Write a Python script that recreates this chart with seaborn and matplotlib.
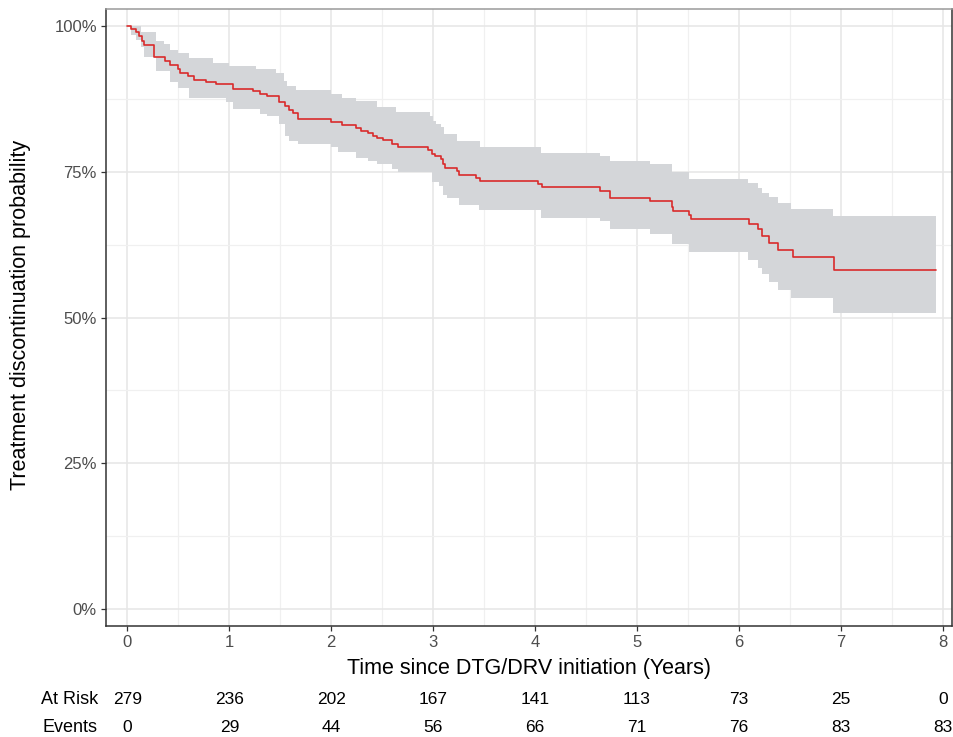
import numpy as np
import matplotlib
matplotlib.use('Agg')
import matplotlib.pyplot as plt
import matplotlib.transforms as mtransforms
from matplotlib.ticker import PercentFormatter, MultipleLocator
import seaborn as sns

# Kaplan-Meier estimate
time = [0.00, 0.04, 0.08, 0.11, 0.14, 0.16, 0.26, 0.37, 0.42, 0.50, 0.52, 0.59,
        0.65, 0.77, 0.87, 1.04, 1.23, 1.30, 1.37, 1.49, 1.55, 1.59, 1.62, 1.67,
        2.00, 2.11, 2.24, 2.29, 2.36, 2.41, 2.45, 2.51, 2.60, 2.65, 2.95, 2.99,
        3.02, 3.08, 3.10, 3.12, 3.23, 3.25, 3.42, 3.46, 4.03, 4.07, 4.64, 4.73,
        5.13, 5.34, 5.35, 5.51, 5.53, 6.10, 6.19, 6.23, 6.29, 6.38, 6.53, 6.93, 7.93]
surv = [100.0, 99.4, 98.9, 98.3, 97.4, 96.7, 94.7, 94.0, 93.3, 92.6, 92.0, 91.4,
        90.7, 90.4, 90.0, 89.2, 88.9, 88.4, 88.0, 86.9, 86.3, 85.6, 85.0, 84.1,
        83.6, 83.0, 82.5, 82.0, 81.6, 81.1, 80.8, 80.4, 79.8, 79.3, 78.7, 78.1,
        77.7, 77.1, 76.4, 75.7, 75.1, 74.4, 73.9, 73.4, 72.9, 72.4, 71.7, 70.5,
        69.9, 69.0, 68.3, 67.6, 66.9, 66.0, 65.1, 64.0, 62.8, 61.6, 60.4, 58.2, 58.2]

# confidence band
upper_time = [0.00, 0.13, 0.28, 0.36, 0.42, 0.50, 0.60, 0.84, 1.00, 1.26, 1.46, 1.54,
              1.57, 1.65, 2.00, 2.11, 2.24, 2.45, 2.64, 2.97, 3.00, 3.03, 3.08, 3.11,
              3.23, 3.46, 4.06, 4.64, 4.73, 5.13, 5.34, 5.51, 6.09, 6.19, 6.23, 6.29,
              6.38, 6.51, 6.92, 7.93]
upper = [100.0, 98.9, 97.4, 96.9, 95.8, 95.3, 94.5, 93.7, 93.2, 92.6, 92.0, 90.6,
         89.7, 89.0, 88.3, 87.6, 87.2, 86.1, 85.2, 84.6, 83.7, 83.2, 82.6, 81.4,
         80.2, 79.3, 78.2, 77.7, 76.8, 76.3, 75.0, 73.8, 73.0, 72.2, 71.3, 70.6,
         69.7, 68.6, 67.4, 67.4]
lower_time = [0.00, 0.04, 0.08, 0.13, 0.16, 0.28, 0.42, 0.50, 0.60, 0.97, 1.04, 1.30,
              1.37, 1.49, 1.55, 1.59, 1.67, 2.00, 2.07, 2.24, 2.36, 2.45, 2.60, 2.65,
              2.99, 3.06, 3.10, 3.14, 3.25, 3.45, 4.06, 4.64, 4.73, 5.13, 5.34, 5.51,
              6.09, 6.19, 6.23, 6.29, 6.38, 6.51, 6.92, 7.93]
lower = [100.0, 98.5, 97.5, 96.3, 94.7, 92.3, 90.3, 89.4, 87.7, 86.9, 85.7, 84.9,
         84.6, 83.2, 81.2, 80.3, 79.8, 79.3, 78.3, 77.4, 76.8, 76.3, 75.5, 74.9,
         73.3, 72.6, 71.0, 70.5, 69.3, 68.5, 67.0, 66.5, 65.1, 64.3, 62.6, 61.2,
         59.8, 58.5, 57.4, 56.1, 54.8, 53.3, 50.7, 50.7]

# risk table
table_times = [0, 1, 2, 3, 4, 5, 6, 7, 8]
at_risk = [279, 236, 202, 167, 141, 113, 73, 25, 0]
events = [0, 29, 44, 56, 66, 71, 76, 83, 83]


def step_path(t, v):
    t = np.asarray(t)
    v = np.asarray(v) / 100
    return np.repeat(t, 2)[1:], np.repeat(v, 2)[:-1]


sns.set_theme(style='whitegrid')
plt.rcParams['font.family'] = ['Liberation Sans', 'DejaVu Sans']

fig = plt.figure(figsize=(9.54, 7.37), dpi=100)
ax = fig.add_axes([106 / 954, 1 - 626 / 737, 846 / 954, 617 / 737])
ax.set_facecolor('white')

# band
ux, uy = step_path(upper_time, upper)
lx, ly = step_path(lower_time, lower)
ax.fill(np.concatenate([ux, lx[::-1]]), np.concatenate([uy, ly[::-1]]),
        color='#d4d6d9', lw=0, zorder=2)

# curve
sns.lineplot(x=time, y=np.asarray(surv) / 100, drawstyle='steps-post',
             color='#d92b2b', lw=1.2, errorbar=None, ax=ax, zorder=3)

ax.set_xlim(-0.21, 8.09)
ax.set_ylim(-0.029, 1.029)
ax.xaxis.set_major_locator(MultipleLocator(1))
ax.xaxis.set_minor_locator(MultipleLocator(0.5))
ax.yaxis.set_major_locator(MultipleLocator(0.25))
ax.yaxis.set_minor_locator(MultipleLocator(0.125))
ax.yaxis.set_major_formatter(PercentFormatter(1.0, decimals=0))

ax.grid(True, which='major', color='#e6e6e6', lw=1.1, zorder=0)
ax.grid(True, which='minor', color='#f0f0f0', lw=0.9, zorder=0)
ax.set_axisbelow(True)

for side in ['left', 'bottom', 'right']:
    ax.spines[side].set_color('#333333')
    ax.spines[side].set_linewidth(1.1)
ax.spines['top'].set_color('#9a9a9a')
ax.spines['top'].set_linewidth(1.1)

ax.tick_params(axis='both', which='major', length=3.5, width=0.9, color='#333333',
               labelsize=12, labelcolor='#4d4d4d', pad=3, bottom=True, left=True)
ax.tick_params(axis='both', which='minor', length=0)

ax.set_xlabel('Time since DTG/DRV initiation (Years)', fontsize=15.5, color='black', labelpad=6)
ax.set_ylabel('')
fig.text(21 / 954, 1 - 315 / 737, 'Treatment discontinuation probability', rotation=90,
         ha='center', va='center', fontsize=15.5, color='black')

# numbers below the plot
trans = mtransforms.blended_transform_factory(ax.transData, fig.transFigure)
row_y = [1 - 700 / 737, 1 - 727 / 737]
fig.text(98 / 954, row_y[0], 'At Risk', ha='right', va='center', fontsize=13, color='black')
fig.text(98 / 954, row_y[1], 'Events', ha='right', va='center', fontsize=13, color='black')
for t, n, e in zip(table_times, at_risk, events):
    ax.text(t, row_y[0], str(n), transform=trans, ha='center', va='center',
            fontsize=12.5, color='black')
    ax.text(t, row_y[1], str(e), transform=trans, ha='center', va='center',
            fontsize=12.5, color='black')

fig.savefig('out.png', dpi=100)
